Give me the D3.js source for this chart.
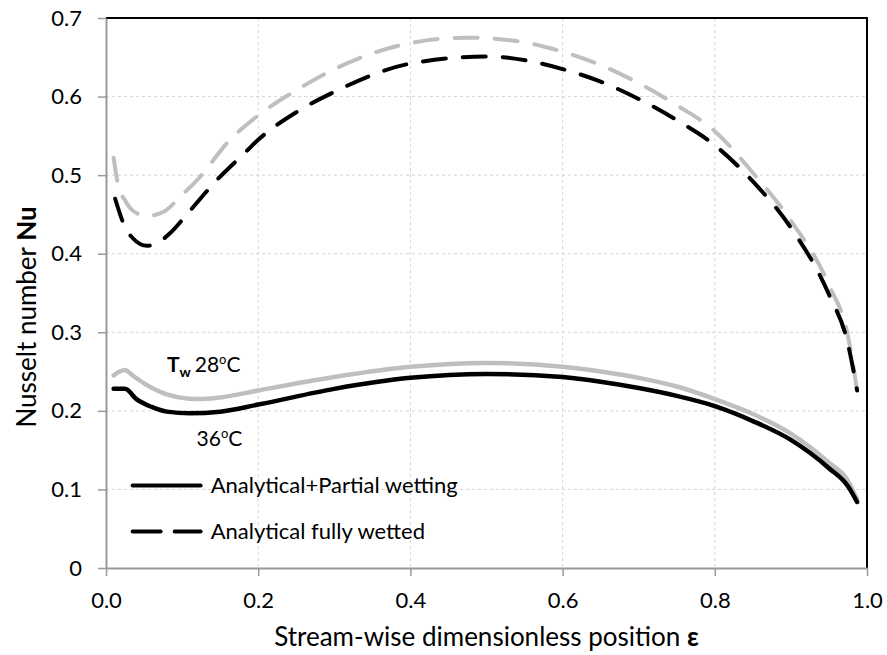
<!DOCTYPE html>
<html>
<head>
<meta charset="utf-8">
<script src="https://cdn.jsdelivr.net/npm/d3@7/dist/d3.min.js"></script>
<style>
  body { margin: 0; background: #fff; }
  text { font-family: Lato, "Open Sans", sans-serif; fill: #000; }
</style>
</head>
<body>
<script>
// stream-wise position and Nusselt number
var grayDashX = [0.01, 0.016, 0.025, 0.035, 0.054, 0.075, 0.1, 0.12, 0.163, 0.2, 0.25, 0.3, 0.4, 0.474, 0.55, 0.6, 0.65, 0.7, 0.75, 0.8, 0.85, 0.9, 0.95, 0.975, 0.987],
	grayDashY = [0.522, 0.487, 0.468, 0.455, 0.448, 0.453, 0.475, 0.494, 0.545, 0.576, 0.608, 0.635, 0.668, 0.675, 0.669, 0.657, 0.640, 0.617, 0.589, 0.556, 0.503, 0.442, 0.36, 0.295, 0.226];

var blackDashX = [0.012, 0.025, 0.035, 0.054, 0.068, 0.084, 0.108, 0.143, 0.183, 0.2, 0.25, 0.3, 0.4, 0.5, 0.6, 0.65, 0.7, 0.75, 0.8, 0.85, 0.9, 0.95, 0.975, 0.987],
	blackDashY = [0.47, 0.434, 0.42, 0.41, 0.414, 0.426, 0.452, 0.491, 0.529, 0.545, 0.58, 0.606, 0.642, 0.651, 0.635, 0.619, 0.597, 0.570, 0.538, 0.492, 0.433, 0.348, 0.285, 0.226];

var graySolidX = [0.01, 0.018, 0.025, 0.035, 0.05, 0.08, 0.12, 0.15, 0.2, 0.3, 0.4, 0.5, 0.6, 0.65, 0.7, 0.75, 0.8, 0.85, 0.9, 0.95, 0.975, 0.987],
	graySolidY = [0.245, 0.25, 0.252, 0.245, 0.235, 0.221, 0.215, 0.217, 0.226, 0.243, 0.256, 0.261, 0.256, 0.250, 0.242, 0.231, 0.215, 0.196, 0.171, 0.134, 0.111, 0.087];

var blackSolidX = [0.01, 0.025, 0.04, 0.06, 0.08, 0.11, 0.15, 0.2, 0.3, 0.4, 0.5, 0.6, 0.65, 0.7, 0.75, 0.8, 0.85, 0.9, 0.95, 0.975, 0.987],
	blackSolidY = [0.228, 0.228, 0.215, 0.205, 0.199, 0.197, 0.199, 0.208, 0.228, 0.242, 0.247, 0.243, 0.237, 0.229, 0.219, 0.206, 0.187, 0.163, 0.127, 0.104, 0.084];

var xTicks = [0, 0.2, 0.4, 0.6, 0.8, 1.0],
	yTicks = [0, 0.1, 0.2, 0.3, 0.4, 0.5, 0.6, 0.7];

var legendLabels = ['Analytical+Partial wetting', 'Analytical fully wetted'];

var margin = {top: 18, right: 20, bottom: 87, left: 106},
	width = 887 - margin.left - margin.right,
	height = 655 - margin.top - margin.bottom;

var x = d3.scaleLinear().domain([0, 1]).range([0, width]);
var y = d3.scaleLinear().domain([0, 0.7]).range([height, 0]);

var svg = d3.select('body').append('svg')
	.attr('width', 887)
	.attr('height', 655);

var main = svg.append('g')
	.attr('transform', 'translate(' + margin.left + ',' + margin.top + ')');

// grid
main.selectAll('.hgrid')
	.data(yTicks.slice(1))
	.enter().append('line')
	.attr('x1', 0).attr('x2', width)
	.attr('y1', function(d) { return y(d); })
	.attr('y2', function(d) { return y(d); })
	.attr('stroke', '#d4d4d4')
	.attr('stroke-dasharray', '3,3');

main.selectAll('.vgrid')
	.data(xTicks.slice(1, -1))
	.enter().append('line')
	.attr('y1', 0).attr('y2', height)
	.attr('x1', function(d) { return x(d); })
	.attr('x2', function(d) { return x(d); })
	.attr('stroke', '#d4d4d4')
	.attr('stroke-dasharray', '3,3');

// top and right frame
main.append('path')
	.attr('d', 'M0,0H' + width + 'V' + height)
	.attr('fill', 'none')
	.attr('stroke', '#000')
	.attr('stroke-width', 2);

// axes
var xAxis = d3.axisBottom(x).tickValues(xTicks).tickFormat(d3.format('.1f')).tickSizeInner(8).tickSizeOuter(0).tickPadding(16);
var gx = main.append('g')
	.attr('transform', 'translate(0,' + height + ')')
	.call(xAxis);

var yAxis = d3.axisLeft(y).tickValues(yTicks).tickFormat(function(d) { return d === 0 ? '0' : d3.format('.1f')(d); }).tickSizeInner(8).tickSizeOuter(0).tickPadding(16);
var gy = main.append('g').call(yAxis);

[gx, gy].forEach(function(g) {
	g.select('.domain').attr('stroke', '#999').attr('stroke-width', 2);
	g.selectAll('.tick line').attr('stroke', '#999').attr('stroke-width', 1.5);
	g.selectAll('.tick text').attr('font-size', 22).attr('font-family', 'Lato, sans-serif').attr('fill', '#000');
});

// curves
var line = d3.line()
	.x(function(d) { return x(d[0]); })
	.y(function(d) { return y(d[1]); })
	.curve(d3.curveMonotoneX);

function pairs(xs, ys) { return xs.map(function(v, i) { return [v, ys[i]]; }); }

var series = [
	{data: pairs(grayDashX, grayDashY), color: '#bfbfbf', dash: '23,17', w: 4},
	{data: pairs(blackDashX, blackDashY), color: '#000', dash: '23,17', w: 4},
	{data: pairs(graySolidX, graySolidY), color: '#bfbfbf', dash: null, w: 4.5},
	{data: pairs(blackSolidX, blackSolidY), color: '#000', dash: null, w: 4.5}
];

main.selectAll('.curve')
	.data(series)
	.enter().append('path')
	.attr('d', function(d) { return line(d.data); })
	.attr('fill', 'none')
	.attr('stroke', function(d) { return d.color; })
	.attr('stroke-width', function(d) { return d.w; })
	.attr('stroke-linecap', 'round')
	.attr('stroke-dasharray', function(d) { return d.dash; });

// annotations
var t28 = main.append('text')
	.attr('x', x(0.08))
	.attr('y', y(0.25))
	.attr('font-size', 21);
t28.append('tspan').attr('font-weight', 'bold').text('T');
t28.append('tspan').attr('font-weight', 'bold').attr('font-size', 14).attr('dy', 5).text('w');
t28.append('tspan').attr('dy', -5).attr('dx', 4).text('28');
t28.append('tspan').attr('font-size', 13).attr('dy', -8).text('o');
t28.append('tspan').attr('dy', 8).text('C');

var t36 = main.append('text')
	.attr('x', x(0.119))
	.attr('y', y(0.155))
	.attr('font-size', 21);
t36.append('tspan').text('36');
t36.append('tspan').attr('font-size', 13).attr('dy', -8).text('o');
t36.append('tspan').attr('dy', 8).text('C');

// legend
var legend = main.selectAll('.legend')
	.data(legendLabels)
	.enter().append('g')
	.attr('transform', function(d, i) { return 'translate(' + x(0.035) + ',' + (y(0.1) - 4 + i * 46) + ')'; });

legend.append('line')
	.attr('x1', 0).attr('x2', 68)
	.attr('stroke', '#000')
	.attr('stroke-width', 4)
	.attr('stroke-linecap', 'round')
	.attr('stroke-dasharray', function(d, i) { return i ? '28,14' : null; });

legend.append('text')
	.attr('x', 78)
	.attr('dy', '0.35em')
	.attr('font-size', 22)
	.text(function(d) { return d; });

// axis titles
var xt = svg.append('text')
	.attr('x', margin.left + width / 2)
	.attr('y', 646)
	.attr('text-anchor', 'middle')
	.attr('font-size', 26);
xt.append('tspan').text('Stream-wise dimensionless position ');
xt.append('tspan').attr('font-weight', 'bold').text('ε');

var yt = svg.append('text')
	.attr('transform', 'translate(36,' + (margin.top + height / 2 + 24) + ') rotate(-90)')
	.attr('text-anchor', 'middle')
	.attr('font-size', 26);
yt.append('tspan').text('Nusselt number ');
yt.append('tspan').attr('font-weight', 'bold').text('Nu');
</script>
</body>
</html>
